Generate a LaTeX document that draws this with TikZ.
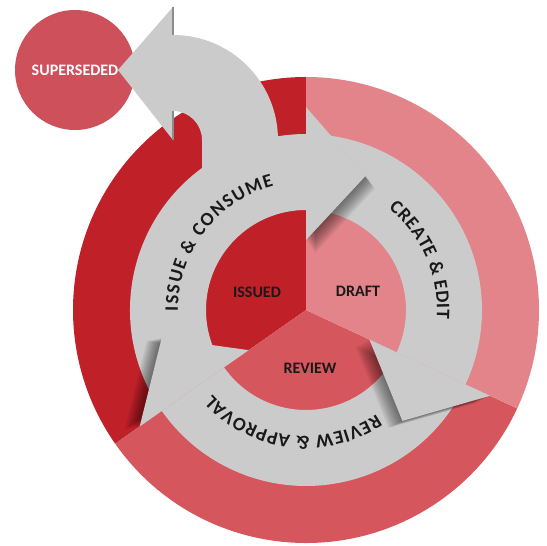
\documentclass[tikz,border=0pt]{standalone}
\usepackage{fontspec}
\setmainfont{Carlito}
\usetikzlibrary{positioning,decorations.text}

\definecolor{issuedred}{RGB}{192,32,40}
\definecolor{reviewred}{RGB}{214,86,93}
\definecolor{draftpink}{RGB}{226,132,137}
\definecolor{supred}{RGB}{205,80,90}
\definecolor{ringgray}{RGB}{203,203,203}

\newcommand{\ringfont}{\fontsize{9.5}{11}\selectfont\bfseries}

\tikzset{
  stagelabel/.style={font=\fontsize{8}{9.6}\selectfont\bfseries, text=black!90, inner sep=0pt},
  ringlabel/.style={decorate, decoration={text along path, text align=fit to path, text color=black!90}},
  headshadow/.style={fill=black, opacity=0.055},
}

\begin{document}
\begin{tikzpicture}[x=0.5pt, y=0.5pt]
\useasboundingbox (0,0) rectangle (546,546);

% bubble for the last state
\node[circle, fill=supred, minimum size=60pt, inner sep=0pt, text=white,
      font=\fontsize{8}{9.6}\selectfont\bfseries] (superseded) at (75,476) {SUPERSEDED};

\begin{scope}[shift={(306,236)}]
  % wheel sectors
  \fill[issuedred] (0,0) -- (90:233) arc[start angle=90, end angle=215, radius=233] -- cycle;
  \fill[reviewred] (0,0) -- (215:233) arc[start angle=215, end angle=335, radius=233] -- cycle;
  \fill[draftpink] (0,0) -- (335:233) arc[start angle=335, end angle=450, radius=233] -- cycle;

  % arrow bodies
  \fill[ringgray] (210:176) arc[start angle=210, end angle=90, radius=176] -- (90:100) arc[start angle=90, end angle=210, radius=100] -- cycle;
  \fill[ringgray] (85:176) arc[start angle=85, end angle=-25, radius=176] -- (-25:100) arc[start angle=-25, end angle=85, radius=100] -- cycle;
  \fill[ringgray] (-30:176) arc[start angle=-30, end angle=-145, radius=176] -- (-145:100) arc[start angle=-145, end angle=-30, radius=100] -- cycle;

  % branch to superseded
  \fill[ringgray] (-28,110) -- (-28,170) arc[start angle=0, end angle=90, radius=105]
    -- (-133,303) -- (-188,240) -- (-133,170) -- (-133,199)
    arc[start angle=90, end angle=0, radius=29] -- (-104,110) -- cycle;
  \draw[black!45, line width=0.6pt] (-133,303) -- (-133,275);
  \draw[black!45, line width=0.6pt] (-133,199) -- (-133,170);

  % shadows of the heads
  \foreach \k in {1,...,10} {
    \fill[headshadow, shift={(0.9*\k,-1.3*\k)}] (90:70) -- (90:203) -- (66:147) -- cycle;
    \fill[headshadow, shift={(-1.4*\k,-0.7*\k)}] (-25:70) -- (-25:203) -- (-49:147) -- cycle;
    \fill[headshadow, shift={(-1.5*\k,-0.3*\k)}] (215:70) -- (215:203) -- (191:147) -- cycle;
  }

  % heads
  \fill[ringgray] (90:70) -- (90:203) -- (66:147) -- cycle;
  \fill[ringgray] (-25:70) -- (-25:203) -- (-49:147) -- cycle;
  \fill[ringgray] (215:70) -- (215:203) -- (191:147) -- cycle;

  % ring texts
  \path[ringlabel, decoration={text={|\ringfont|ISSUE {\&} CONSUME}}]
    (180.5:128) arc[start angle=180.5, end angle=104.5, radius=128];
  \path[ringlabel, decoration={text={|\ringfont|CREATE {\&} EDIT}}]
    (51:131) arc[start angle=51, end angle=-4, radius=131];
  \path[ringlabel, decoration={text={|\ringfont|REVIEW {\&} APPROVAL}}]
    (-56:126) arc[start angle=-56, end angle=-138, radius=126];

  % states
  \node[stagelabel] (issued) at (-49,18) {ISSUED};
  \node[stagelabel] (draft) at (52,19) {DRAFT};
  \node[stagelabel] (review) at (4,-58) {REVIEW};
\end{scope}
\end{tikzpicture}
\end{document}
